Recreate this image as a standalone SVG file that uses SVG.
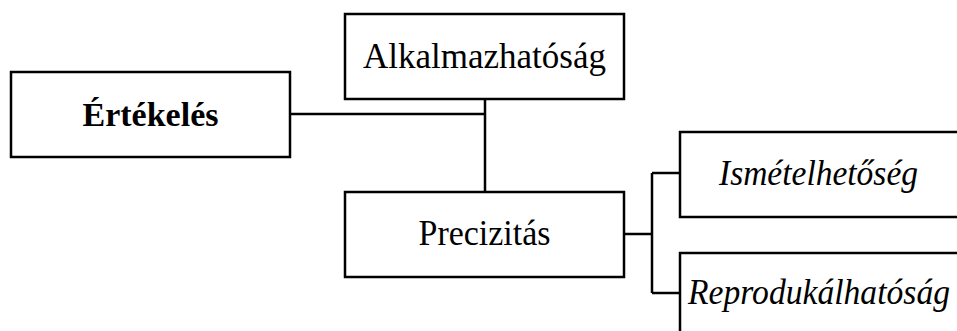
<svg xmlns="http://www.w3.org/2000/svg" width="957" height="331" viewBox="0 0 957 331">
<style>
.box{fill:#fff;stroke:#000;stroke-width:2.5}
.ln{fill:none;stroke:#000;stroke-width:2.5}
.t{font-family:"Liberation Serif","Times New Roman",serif;font-size:35px;fill:#000}
.b{font-weight:bold;font-size:34px}
.i{font-style:italic}
</style>
<rect width="957" height="331" fill="#fff"/>
<g id="connectors">
<path class="ln" d="M290 114H485M485 99V192"/>
<path class="ln" d="M624 234H652M652 173V293M652 173H680M652 293H680"/>
</g>
<g id="ertekeles">
<rect class="box" x="11" y="72" width="279" height="85"/>
<text class="t b" x="150.5" y="126" text-anchor="middle">Értékelés</text>
</g>
<g id="alkalmazhatosag">
<rect class="box" x="345" y="14" width="279" height="85"/>
<text class="t" x="484.5" y="68" text-anchor="middle">Alkalmazhatóság</text>
</g>
<g id="precizitas">
<rect class="box" x="345" y="192" width="279" height="85"/>
<text class="t" x="484.5" y="245" text-anchor="middle" textLength="132" lengthAdjust="spacingAndGlyphs">Precizitás</text>
</g>
<g id="ismetelhetoseg">
<rect class="box" x="680" y="132" width="300" height="85"/>
<text class="t i" x="719" y="185" textLength="199" lengthAdjust="spacingAndGlyphs">Ismételhetőség</text>
</g>
<g id="reprodukalhatosag">
<rect class="box" x="680" y="253" width="300" height="85"/>
<text class="t i" x="688" y="304" textLength="262" lengthAdjust="spacingAndGlyphs">Reprodukálhatóság</text>
</g>
</svg>
